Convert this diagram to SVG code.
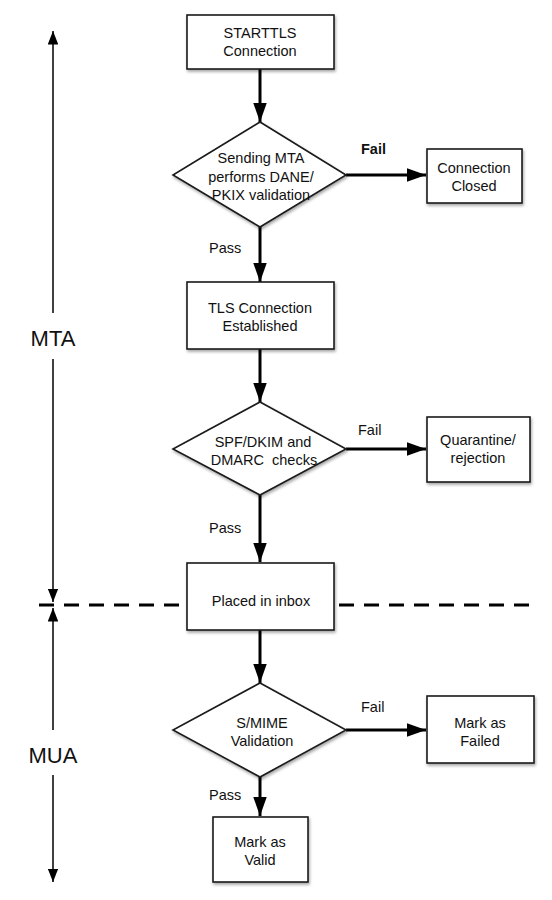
<svg xmlns="http://www.w3.org/2000/svg" width="552" height="900" viewBox="0 0 552 900">
<defs>
<marker id="ah" markerWidth="6.5" markerHeight="4.6" refX="6.5" refY="2.3" orient="auto" markerUnits="strokeWidth">
<path d="M0,0 L6.5,2.3 L0,4.6 Z" fill="#000"/>
</marker>
<marker id="ahs" markerWidth="9" markerHeight="7" refX="9" refY="3.5" orient="auto" markerUnits="strokeWidth">
<path d="M0,0 L9,3.5 L0,7 Z" fill="#000"/>
</marker>
<filter id="sh" x="-10%" y="-10%" width="125%" height="130%">
<feGaussianBlur in="SourceAlpha" stdDeviation="1.5"/>
<feOffset dx="1" dy="2" result="b"/>
<feComponentTransfer><feFuncA type="linear" slope="0.35"/></feComponentTransfer>
<feMerge><feMergeNode/><feMergeNode in="SourceGraphic"/></feMerge>
</filter>
</defs>
<style>
.box{fill:#fff;stroke:#1a1a1a;stroke-width:1.6;filter:url(#sh)}
.t{font-family:"Liberation Sans",Arial,sans-serif;font-size:14.5px;fill:#111;text-anchor:middle}
.lbl{font-family:"Liberation Sans",Arial,sans-serif;font-size:14.5px;fill:#111}
.big{font-family:"Liberation Sans",Arial,sans-serif;font-size:22px;fill:#111;text-anchor:middle}
.c{stroke:#000;stroke-width:3;fill:none;marker-end:url(#ah)}
.s{stroke:#000;stroke-width:1.5;fill:none;marker-end:url(#ahs)}
.sl{stroke:#000;stroke-width:1.5;fill:none}
</style>
<rect width="552" height="900" fill="#fff"/>

<g id="connectors">
<line class="c" x1="260" y1="69" x2="260" y2="122"/>
<line class="c" x1="346" y1="175" x2="426" y2="175"/>
<line class="c" x1="260" y1="227" x2="260" y2="282"/>
<line class="c" x1="260" y1="349" x2="260" y2="402"/>
<line class="c" x1="346" y1="449" x2="426" y2="449"/>
<line class="c" x1="260" y1="495" x2="260" y2="562"/>
<line class="c" x1="260" y1="630" x2="260" y2="683"/>
<line class="c" x1="346" y1="730" x2="426" y2="730"/>
<line class="c" x1="260" y1="777" x2="260" y2="816"/>
</g>

<g id="divider">
<line x1="39" y1="605" x2="530" y2="605" stroke="#000" stroke-width="3" stroke-dasharray="15,10"/>
</g>

<g id="scale">
<line class="s" x1="53" y1="313" x2="53" y2="31"/>
<line class="s" x1="53" y1="359" x2="53" y2="602"/>
<line class="s" x1="53" y1="730" x2="53" y2="608"/>
<line class="s" x1="53" y1="775" x2="53" y2="882"/>
<text class="big" x="53" y="346">MTA</text>
<text class="big" x="53" y="763">MUA</text>
</g>

<g id="starttls">
<rect class="box" x="187" y="15" width="147" height="54"/>
<text class="t" x="260" y="38">STARTTLS</text>
<text class="t" x="260" y="56">Connection</text>
</g>

<g id="dane">
<polygon class="box" points="260,122 346,175 260,227 173,175"/>
<text class="t" x="261" y="163">Sending MTA</text>
<text class="t" x="261" y="182">performs DANE/</text>
<text class="t" x="261" y="200">PKIX validation</text>
</g>

<g id="closed">
<rect class="box" x="427" y="149" width="95" height="54"/>
<text class="t" x="474" y="173">Connection</text>
<text class="t" x="474" y="191">Closed</text>
</g>

<g id="tls">
<rect class="box" x="187" y="282" width="147" height="67"/>
<text class="t" x="260" y="313">TLS Connection</text>
<text class="t" x="260" y="331">Established</text>
</g>

<g id="spf">
<polygon class="box" points="260,402 346,449 260,495 173,449"/>
<text class="t" x="263" y="447" xml:space="preserve">SPF/DKIM and</text>
<text class="t" x="264" y="465" xml:space="preserve">DMARC  checks</text>
</g>

<g id="quarantine">
<rect class="box" x="427" y="417" width="103" height="65"/>
<text class="t" x="478" y="445">Quarantine/</text>
<text class="t" x="478" y="463">rejection</text>
</g>

<g id="inbox">
<rect class="box" x="187" y="563" width="147" height="67"/>
<text class="t" x="261" y="606">Placed in inbox</text>
</g>

<g id="smime">
<polygon class="box" points="260,683 346,730 260,777 173,730"/>
<text class="t" x="262" y="728">S/MIME</text>
<text class="t" x="262" y="746">Validation</text>
</g>

<g id="failed">
<rect class="box" x="427" y="696" width="107" height="67"/>
<text class="t" x="480" y="728">Mark as</text>
<text class="t" x="480" y="746">Failed</text>
</g>

<g id="valid">
<rect class="box" x="213" y="817" width="95" height="65"/>
<text class="t" x="260" y="847">Mark as</text>
<text class="t" x="260" y="865">Valid</text>
</g>

<g id="labels">
<text class="lbl" x="361" y="154" font-weight="bold">Fail</text>
<text class="lbl" x="209" y="253">Pass</text>
<text class="lbl" x="358" y="435">Fail</text>
<text class="lbl" x="209" y="533">Pass</text>
<text class="lbl" x="361" y="712">Fail</text>
<text class="lbl" x="209" y="800">Pass</text>
</g>
</svg>
